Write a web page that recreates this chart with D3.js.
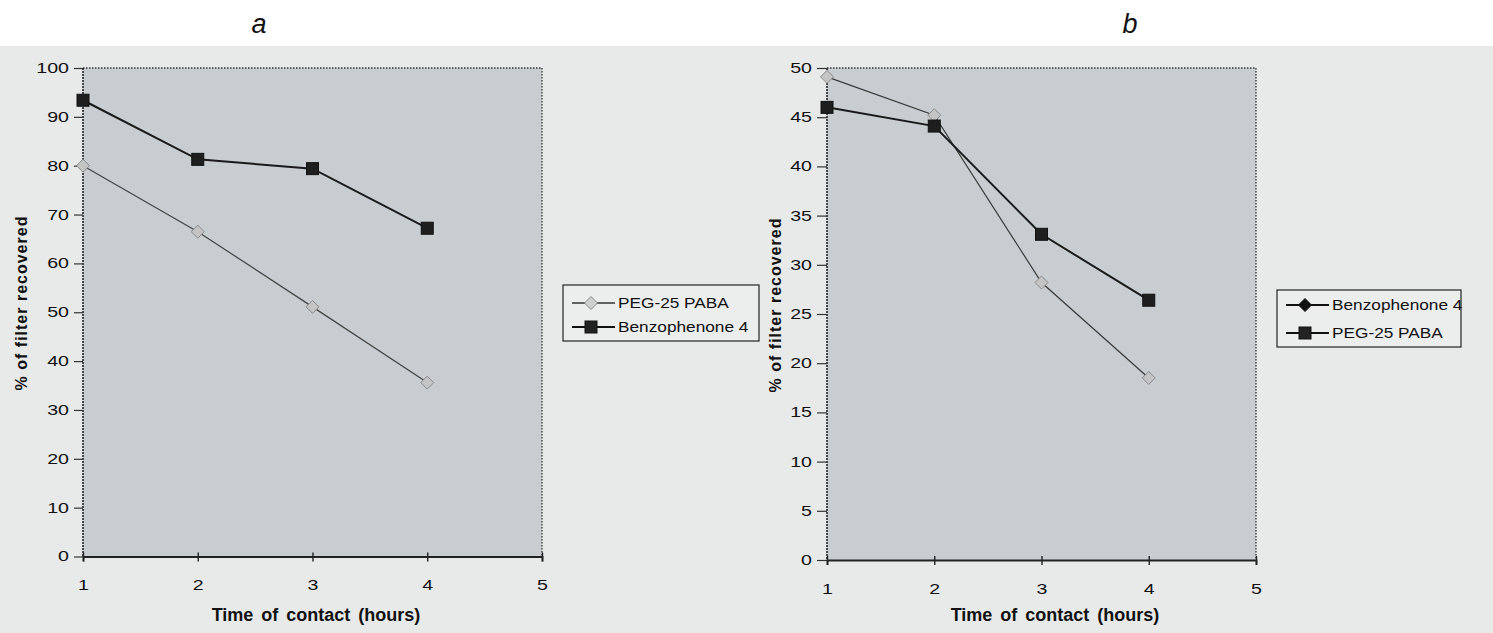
<!DOCTYPE html>
<html><head><meta charset="utf-8">
<script src="https://cdn.jsdelivr.net/npm/d3@7"></script>
<style>
body{margin:0;background:#fff;}
text{font-family:"Liberation Sans",Arial,Helvetica,sans-serif;fill:#111;}
</style>
</head><body>
<svg id="chart" width="1493" height="633"></svg>
<script>
// ---------- data ----------
const hours = [1, 2, 3, 4];
const xTickValues = [1, 2, 3, 4, 5];
const yTicksA = [0, 10, 20, 30, 40, 50, 60, 70, 80, 90, 100];
const yTicksB = [0, 5, 10, 15, 20, 25, 30, 35, 40, 45, 50];
const panelLabels = ["a", "b"];
const xTitle = "Time of contact (hours)";
const yTitle = "% of filter recovered";
// panel a
const seriesNamesA = ["PEG-25 PABA", "Benzophenone 4"];
const pegA = [80.0, 66.5, 51.1, 35.6];
const benzoA = [93.4, 81.3, 79.4, 67.2];
// panel b
const seriesNamesB = ["Benzophenone 4", "PEG-25 PABA"];
const benzoB = [49.1, 45.2, 28.2, 18.5];
const pegB = [46.0, 44.1, 33.1, 26.4];

// ---------- drawing ----------
const svg = d3.select("#chart");
const SX = 1.4;   // horizontal stretch of the scanned tick lettering
const LSX = 1.15; // stretch of legend lettering

// scanned paper background
svg.append("rect").attr("x", 0).attr("y", 46).attr("width", 1493).attr("height", 587).attr("fill", "#e8eaea");

function drawPanel(cfg) {
  const g = svg.append("g");
  const x = d3.scaleLinear().domain([1, 5]).range(cfg.xr);
  const y = d3.scaleLinear().domain([0, cfg.ymax]).range(cfg.yr);

  // plot area
  g.append("rect")
    .attr("x", x(1)).attr("y", y(cfg.ymax))
    .attr("width", x(5) - x(1)).attr("height", y(0) - y(cfg.ymax))
    .attr("fill", "#c7cdd0");
  // dotted top & right frame
  g.append("path")
    .attr("d", `M${x(1)},${y(cfg.ymax)}H${x(5)}V${y(0)}`)
    .attr("fill", "none").attr("stroke", "#333").attr("stroke-width", 1.3)
    .attr("stroke-dasharray", "1.5,1.5");
  // left axis (dotted dark)
  g.append("line")
    .attr("x1", x(1)).attr("x2", x(1)).attr("y1", y(cfg.ymax)).attr("y2", y(0))
    .attr("stroke", "#222").attr("stroke-width", 1.6).attr("stroke-dasharray", "2,1");

  // y axis
  const ya = g.append("g").attr("transform", `translate(${x(1)},0)`)
    .call(d3.axisLeft(y).tickValues(cfg.yTicks).tickFormat(d3.format("d")).tickSize(cfg.tickLen).tickPadding(0));
  ya.select(".domain").remove();
  ya.selectAll(".tick line").attr("stroke", "#333").attr("stroke-width", 1.2);
  ya.selectAll(".tick text")
    .attr("x", -(cfg.tickLen + 5) / SX)
    .attr("transform", `scale(${SX},1)`)
    .style("font-size", "14px").style("font-family", "'Liberation Sans',Arial,sans-serif")
    .attr("fill", "#111");

  // x axis
  const xa = g.append("g").attr("transform", `translate(0,${y(0)})`)
    .call(d3.axisBottom(x).tickValues(xTickValues).tickFormat(d3.format("d")).tickSize(5).tickPadding(19));
  xa.select(".domain").attr("stroke", "#222").attr("stroke-width", 1.8);
  xa.selectAll(".tick line").attr("y1", -4).attr("stroke", "#222").attr("stroke-width", 1.4);
  xa.selectAll(".tick text")
    .attr("x", 0)
    .attr("transform", `scale(${SX},1)`)
    .style("font-size", "14px").style("font-family", "'Liberation Sans',Arial,sans-serif")
    .attr("fill", "#111");

  // lines & markers
  const line = d3.line().x((d, i) => x(hours[i])).y(d => y(d));
  cfg.series.forEach(s => {
    g.append("path").datum(s.values)
      .attr("d", line).attr("fill", "none")
      .attr("stroke", s.lineColor).attr("stroke-width", s.lineWidth);
  });
  cfg.series.forEach(s => {
    s.values.forEach((v, i) => drawMarker(g, s.marker, x(hours[i]), y(v), s.fill, s.stroke));
  });

  // axis titles
  g.append("text")
    .attr("x", cfg.xTitleX).attr("y", 621)
    .attr("text-anchor", "middle")
    .style("font-size", "18px").style("font-weight", "bold").style("word-spacing", "3px")
    .text(xTitle);
  g.append("text")
    .attr("transform", `translate(${cfg.yTitleX},${cfg.yTitleY}) rotate(-90)`)
    .attr("text-anchor", "middle").attr("dy", "0.35em")
    .style("font-size", "16px").style("font-weight", "bold").style("letter-spacing", "1px")
    .text(yTitle);

  // panel label
  g.append("text")
    .attr("x", cfg.labelX).attr("y", 33)
    .attr("text-anchor", "middle")
    .style("font-size", "27px").style("font-style", "italic")
    .style("font-family", "Arial,'Liberation Sans',sans-serif")
    .text(cfg.label);

  // legend
  const L = cfg.legend;
  const lg = g.append("g").attr("transform", `translate(${L.x},${L.y})`);
  lg.append("rect").attr("width", L.w).attr("height", L.h)
    .attr("fill", "#eceeee").attr("stroke", "#222").attr("stroke-width", 1.2);
  cfg.series.forEach((s, i) => {
    const ry = L.rows[i];
    lg.append("line").attr("x1", 9).attr("x2", 52).attr("y1", ry).attr("y2", ry)
      .attr("stroke", s.legendLine).attr("stroke-width", s.legendLineWidth);
    drawMarker(lg, s.marker, 28, ry, s.legendFill, s.legendStroke);
    lg.append("text")
      .attr("transform", `translate(55,${ry}) scale(${LSX},1)`)
      .attr("dy", "0.36em")
      .style("font-size", "15px")
      .text(s.name);
  });
}

function drawMarker(g, type, cx, cy, fill, stroke) {
  if (type === "square") {
    g.append("rect").attr("x", cx - 6).attr("y", cy - 6).attr("width", 12).attr("height", 12)
      .attr("fill", fill).attr("stroke", stroke).attr("stroke-width", 1);
  } else {
    const r = 6.5;
    g.append("path")
      .attr("d", `M${cx},${cy - r}L${cx + r},${cy}L${cx},${cy + r}L${cx - r},${cy}Z`)
      .attr("fill", fill).attr("stroke", stroke).attr("stroke-width", 1);
  }
}

drawPanel({
  label: panelLabels[0], labelX: 259,
  xr: [83, 542], yr: [556.5, 68], ymax: 100, yTicks: yTicksA, tickLen: 9,
  xTitleX: 316, yTitleX: 21, yTitleY: 303,
  legend: { x: 563, y: 285, w: 196, h: 56, rows: [18, 42] },
  series: [
    { name: seriesNamesA[0], values: pegA, marker: "diamond", fill: "#c4c4c4", stroke: "#8a8a8a",
      lineColor: "#444", lineWidth: 1.2, legendLine: "#333", legendLineWidth: 1.3,
      legendFill: "#cfcfcf", legendStroke: "#888" },
    { name: seriesNamesA[1], values: benzoA, marker: "square", fill: "#1e1e1e", stroke: "#111",
      lineColor: "#1a1a1a", lineWidth: 2, legendLine: "#111", legendLineWidth: 2,
      legendFill: "#222", legendStroke: "#111" }
  ]
});

drawPanel({
  label: panelLabels[1], labelX: 1130,
  xr: [827, 1256], yr: [560, 68], ymax: 50, yTicks: yTicksB, tickLen: 10,
  xTitleX: 1055, yTitleX: 775, yTitleY: 305,
  legend: { x: 1277, y: 290, w: 184, h: 57, rows: [15, 43] },
  series: [
    { name: seriesNamesB[0], values: benzoB, marker: "diamond", fill: "#c4c4c4", stroke: "#8a8a8a",
      lineColor: "#3a3a3a", lineWidth: 1.2, legendLine: "#111", legendLineWidth: 1.8,
      legendFill: "#111", legendStroke: "#111" },
    { name: seriesNamesB[1], values: pegB, marker: "square", fill: "#1e1e1e", stroke: "#111",
      lineColor: "#1a1a1a", lineWidth: 2, legendLine: "#111", legendLineWidth: 2,
      legendFill: "#222", legendStroke: "#111" }
  ]
});
</script>
</body></html>
